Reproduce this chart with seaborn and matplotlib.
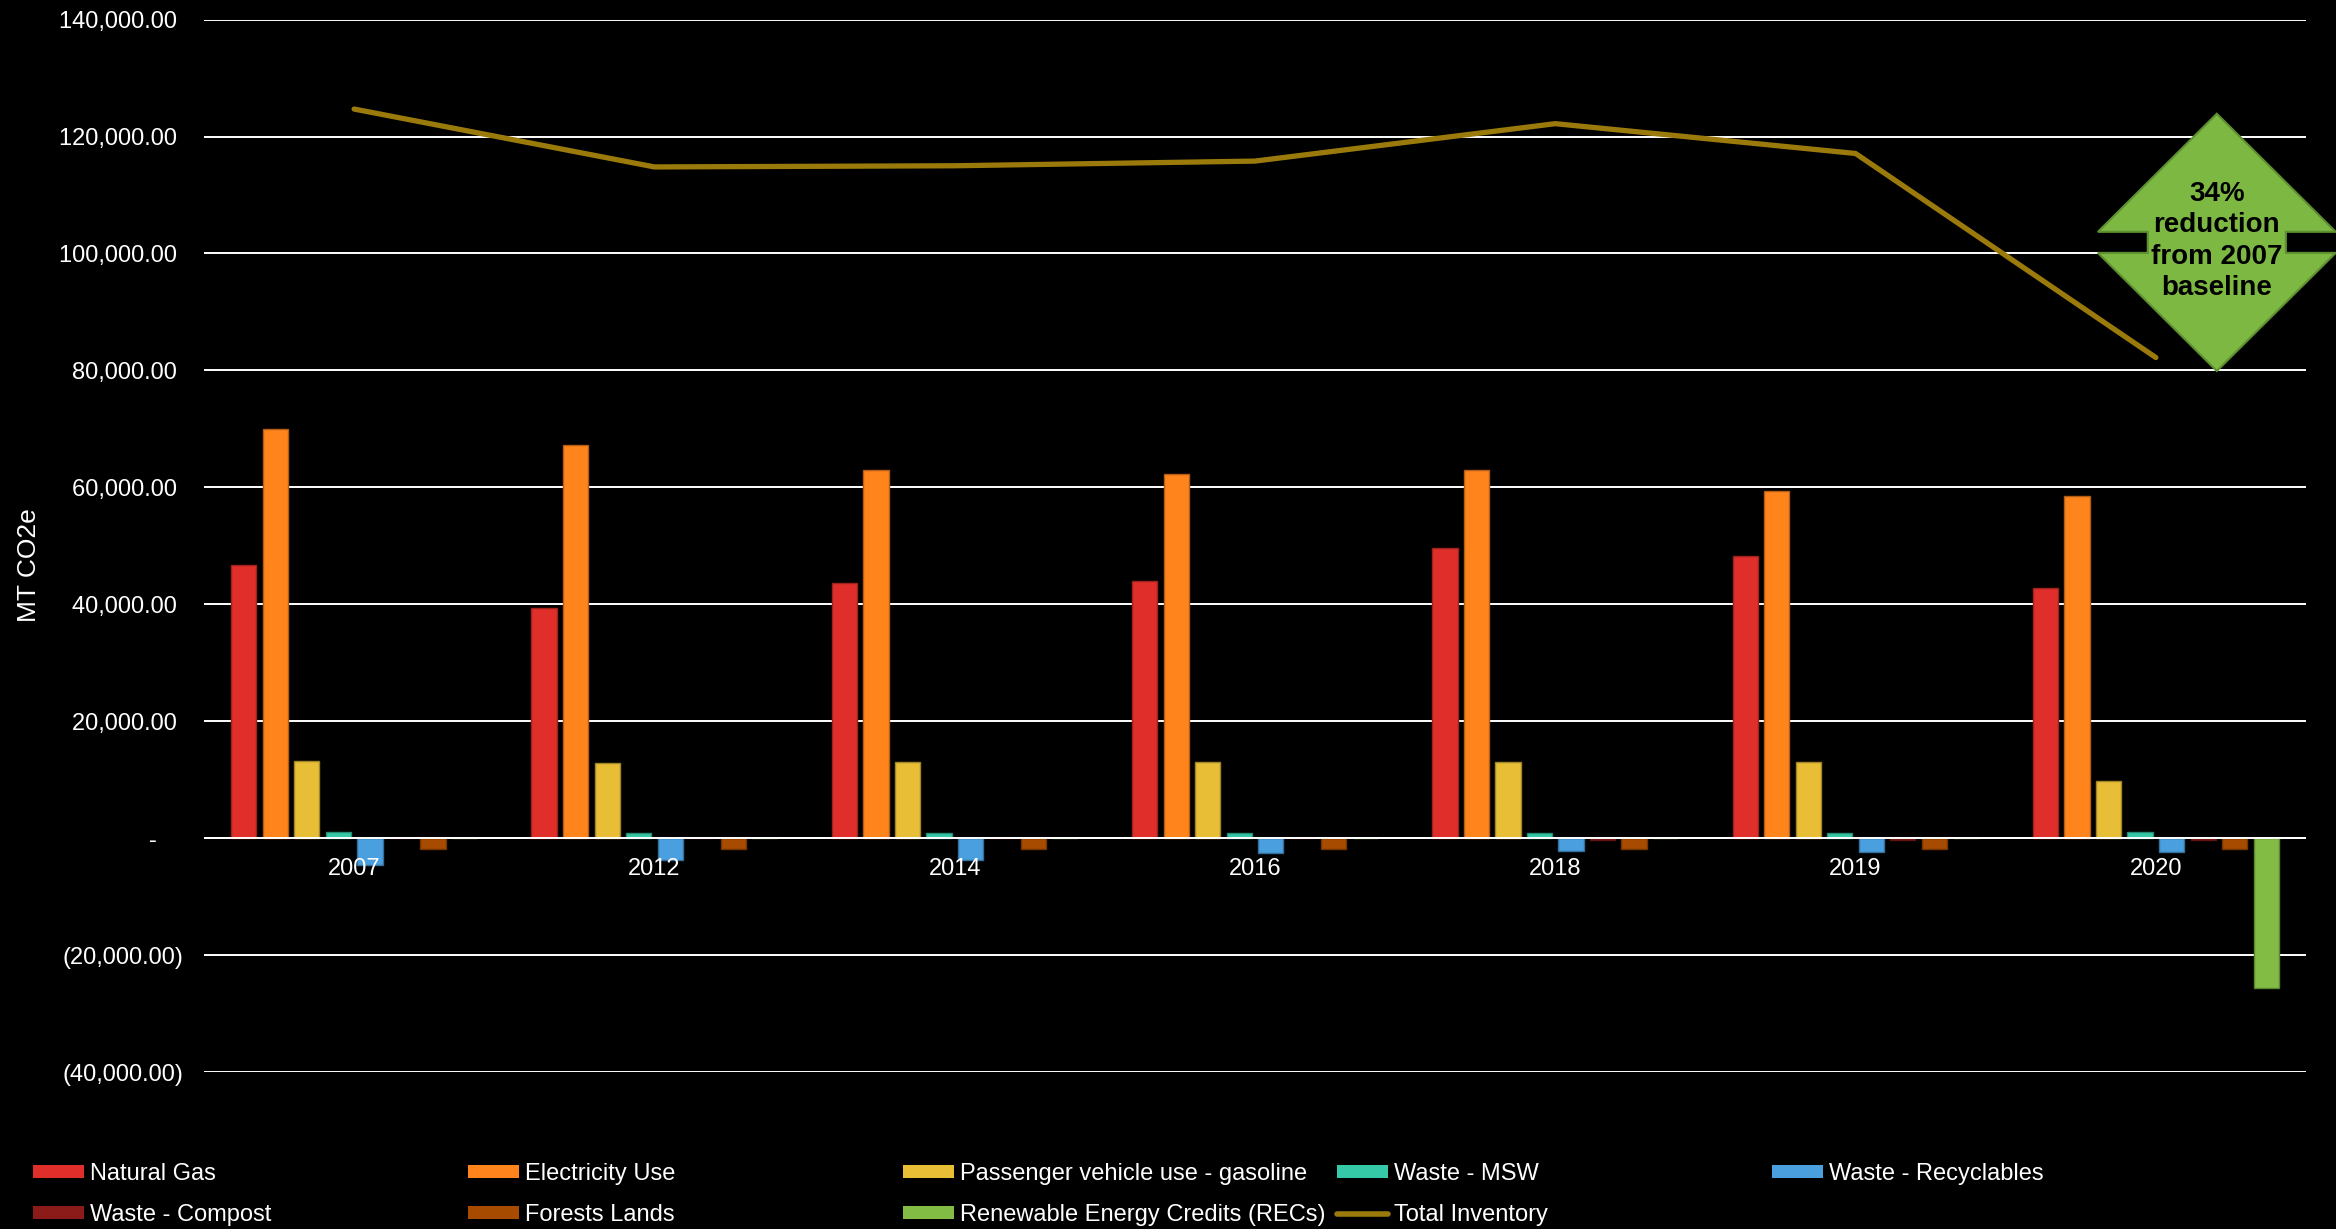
import numpy as np
import pandas as pd
import matplotlib
matplotlib.use("Agg")
import matplotlib.pyplot as plt
import seaborn as sns
from matplotlib.patches import Patch, Polygon
from matplotlib.lines import Line2D
from matplotlib.ticker import FuncFormatter, MultipleLocator
import matplotlib.colors as mcolors

# ---------------- data ----------------
years = ["2007", "2012", "2014", "2016", "2018", "2019", "2020"]

natural_gas   = [46800, 39400, 43700, 43900, 49700, 48300, 42800]
electricity   = [70000, 67200, 63000, 62300, 62900, 59400, 58500]
passenger     = [13200, 12800, 13000, 13000, 13000, 13000, 9800]
waste_msw     = [1000, 850, 950, 900, 950, 900, 1050]
waste_recyc   = [-4600, -3800, -3800, -2600, -2200, -2400, -2400]
waste_compost = [0, 0, 0, 0, -300, -350, -300]
forests       = [-1900, -1900, -1900, -1900, -1900, -1900, -1900]
recs          = [0, 0, 0, 0, 0, 0, -25700]
total_inventory = [124700, 114800, 115000, 115800, 122200, 117100, 82200]

series_names = ["Natural Gas", "Electricity Use", "Passenger vehicle use - gasoline",
                "Waste - MSW", "Waste - Recyclables", "Waste - Compost",
                "Forests Lands", "Renewable Energy Credits (RECs)"]
series_values = [natural_gas, electricity, passenger, waste_msw, waste_recyc,
                 waste_compost, forests, recs]
series_colors = ["#E02F2A", "#FF841C", "#E8BE37", "#36C9A7", "#4A9FDF",
                 "#8A1B18", "#A64B00", "#82BC45"]
total_name = "Total Inventory"
total_color = "#9B7A0C"

annotation_text = "34%\nreduction\nfrom 2007\nbaseline"

# ---------------- build table ----------------
rows = []
for name, vals in zip(series_names, series_values):
    for y, v in zip(years, vals):
        rows.append({"Year": y, "Source": name, "Value": v})
df = pd.DataFrame(rows)

# ---------------- style ----------------
sns.set_style("white")
plt.rcParams['font.family'] = ['Liberation Sans', 'DejaVu Sans']
plt.rcParams['axes.facecolor'] = 'black'
plt.rcParams['figure.facecolor'] = 'black'

W, H = 2336, 1229
fig = plt.figure(figsize=(W / 100, H / 100), dpi=100)
ax = fig.add_axes([204 / W, 1 - 1072 / H, (2306 - 204) / W, (1072 - 19.6) / H])
ax.set_facecolor('black')

sns.barplot(data=df, x="Year", y="Value", hue="Source", order=years,
            hue_order=series_names, palette=series_colors, saturation=1,
            width=0.84, gap=0.2, errorbar=None, legend=False, ax=ax, zorder=2)

for p in ax.patches:
    fc = np.array(mcolors.to_rgb(p.get_facecolor()))
    p.set_edgecolor(tuple(fc * 0.7))
    p.set_linewidth(1.0)

sns.lineplot(x=np.arange(len(years)), y=total_inventory, color=total_color,
             lw=3.8, ax=ax, zorder=4, solid_capstyle='round')

ax.set_xlim(-0.5, len(years) - 0.5)
ax.set_ylim(-40000, 140000)
ax.yaxis.set_major_locator(MultipleLocator(20000))


def fmt(v, pos):
    if abs(v) < 1e-6:
        return "-    "
    if v < 0:
        return f"({abs(v):,.2f})"
    return f"{v:,.2f} "


ax.yaxis.set_major_formatter(FuncFormatter(fmt))
ax.yaxis.grid(True, color='white', lw=1.4)
ax.xaxis.grid(False)
ax.set_axisbelow(True)
ax.xaxis.set_zorder(5)
ax.axhline(0, color='white', lw=1.4, zorder=3)

for s in ax.spines.values():
    s.set_visible(False)
ax.spines['bottom'].set_position(('data', 0))
ax.tick_params(axis='both', length=0, colors='white', labelsize=17)
ax.tick_params(axis='y', pad=15)
ax.tick_params(axis='x', pad=14)
ax.set_xlabel("")
ax.set_ylabel("")

fig.text(29 / W, 1 - 565 / H, "MT CO2e", rotation=90, ha='center', va='center',
         color='white', fontsize=19)

# ---------------- annotation (up-down arrow) ----------------
cx = 6.203
oh, sh = 0.396, 0.23
y_top, y_bot, s_top, s_bot = 123900, 79900, 103700, 100100
poly = [(cx, y_top), (cx + oh, s_top), (cx + sh, s_top), (cx + sh, s_bot),
        (cx + oh, s_bot), (cx, y_bot), (cx - oh, s_bot), (cx - sh, s_bot),
        (cx - sh, s_top), (cx - oh, s_top)]
ax.add_patch(Polygon(poly, closed=True, facecolor="#7DB843", edgecolor="#5E8F30",
                     lw=1.5, clip_on=False, zorder=5))
ax.text(cx, 102100, annotation_text, ha='center', va='center', fontsize=20,
        fontweight='bold', color='black', zorder=6, linespacing=1.27)

# ---------------- legend ----------------
col_x = [33, 468, 903, 1337, 1772]
row_y = [1174, 1215]
legend_items = []
for i, (name, col) in enumerate(zip(series_names, series_colors)):
    legend_items.append((Patch(facecolor=col, edgecolor='none'), name))
legend_items.append((Line2D([0], [0], color=total_color, lw=4, solid_capstyle='round'), total_name))

for i, (h, lab) in enumerate(legend_items):
    r, c = divmod(i, 5)
    fig.legend([h], [lab], loc='center left',
               bbox_to_anchor=(col_x[c] / W, 1 - row_y[r] / H),
               frameon=False, fontsize=17, labelcolor='white',
               handlelength=2.15, handleheight=0.47, handletextpad=0.25,
               borderpad=0, borderaxespad=0)

fig.savefig("out.png", dpi=100, facecolor='black')
